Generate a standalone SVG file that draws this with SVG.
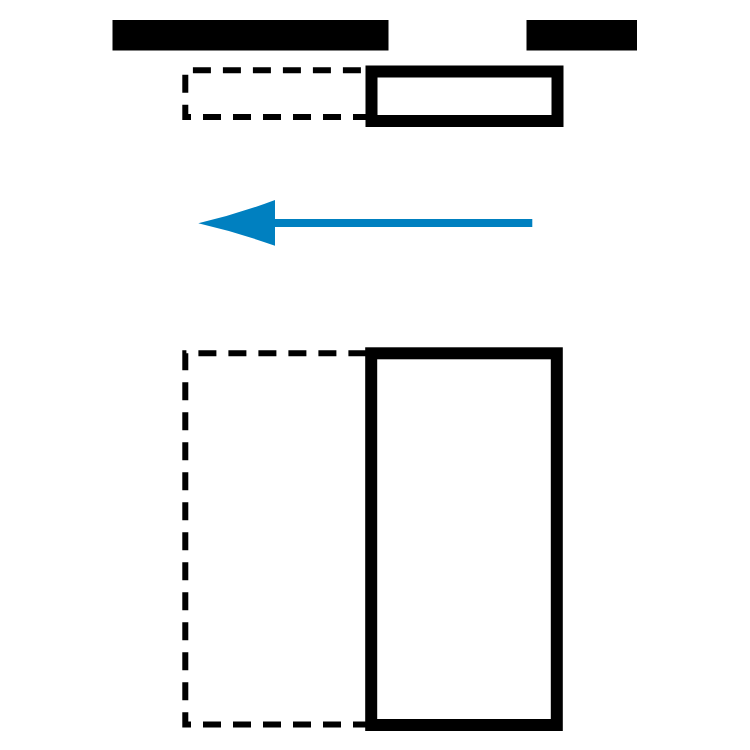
<svg xmlns="http://www.w3.org/2000/svg" width="750" height="750" viewBox="0 0 750 750">
  <style>
    .bar { fill: #000; }
    .solid { fill: none; stroke: #000; stroke-width: 12; }
    .dashed { fill: none; stroke: #000; stroke-width: 6; stroke-dasharray: 18 12; }
    .arrow { stroke: #0080c0; stroke-width: 8; fill: none; }
    .head { fill: #0080c0; }
  </style>
  <rect width="750" height="750" fill="#fff"/>
  <g id="label-left"><rect class="bar" x="112.5" y="20" width="276" height="30.5"/></g>
  <g id="label-right"><rect class="bar" x="526.5" y="20" width="110.5" height="30.5"/></g>
  <g id="ghost-top"><path class="dashed" d="M371,117 H185.3 V70.3 H371"/></g>
  <g id="box-top"><rect class="solid" x="371.5" y="71.5" width="186" height="49.5" stroke-width="11.6"/></g>
  <g id="connectors">
    <line class="arrow" x1="532.3" y1="223" x2="274" y2="223"/>
    <path class="head" d="M198.3,223.3 Q238,214 275,200 L275,245.8 Q238,232.5 198.3,223.3 Z"/>
  </g>
  <g id="ghost-bottom"><path class="dashed" d="M371,724.5 H185.3 V353.3 H371"/></g>
  <g id="box-bottom"><rect class="solid" x="371.2" y="353.3" width="185.6" height="371.7"/></g>
</svg>
